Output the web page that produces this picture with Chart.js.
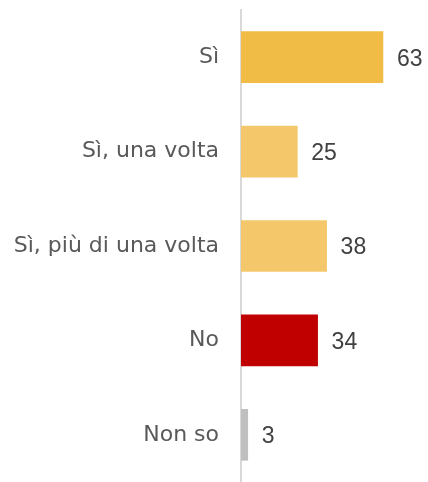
<!DOCTYPE html>
<html>
<head>
<meta charset="utf-8">
<script src="https://cdn.jsdelivr.net/npm/chart.js@4"></script>
<style>
  html, body { margin: 0; padding: 0; background: #fff; }
  #wrap { width: 428px; height: 482px; }
</style>
</head>
<body>
<div id="wrap"><canvas id="grafico"></canvas></div>
<script>
// dati del grafico
const categorie = ['Sì', 'Sì, una volta', 'Sì, più di una volta', 'No', 'Non so'];
const valori = [63, 25, 38, 34, 3];
const colori = ['#F0BC45', '#F4C86A', '#F4C86A', '#C00000', '#BFBFBF'];

// etichette dei valori a destra delle barre
const etichette = {
  id: 'etichette',
  afterDatasetsDraw(chart) {
    const ctx = chart.ctx;
    const meta = chart.getDatasetMeta(0);
    ctx.save();
    ctx.font = '23px "Liberation Sans", sans-serif';
    ctx.fillStyle = '#404040';
    ctx.textBaseline = 'middle';
    ctx.textAlign = 'left';
    meta.data.forEach(function (bar, i) {
      ctx.fillText(valori[i], bar.x + 14, bar.y + 2);
    });
    ctx.restore();
  }
};

new Chart(document.getElementById('grafico'), {
  type: 'bar',
  data: {
    labels: categorie,
    datasets: [{
      data: valori,
      backgroundColor: colori,
      barThickness: 51
    }]
  },
  options: {
    indexAxis: 'y',
    responsive: true,
    maintainAspectRatio: false,
    animation: false,
    layout: { padding: { top: 10, bottom: 0, left: 0, right: 0 } },
    plugins: { legend: { display: false }, tooltip: { enabled: false } },
    scales: {
      x: {
        min: 0,
        max: 83,
        display: false
      },
      y: {
        grid: { display: false, drawTicks: false },
        border: { display: true, color: '#D9D9D9', width: 2 },
        ticks: {
          color: '#595959',
          font: { family: 'DejaVu Sans', size: 22 },
          padding: 22
        },
        afterFit: function (scale) {
          scale.width = 241;
          scale.paddingTop = 0;
          scale.paddingBottom = 0;
        }
      }
    }
  },
  plugins: [etichette]
});
</script>
</body>
</html>
